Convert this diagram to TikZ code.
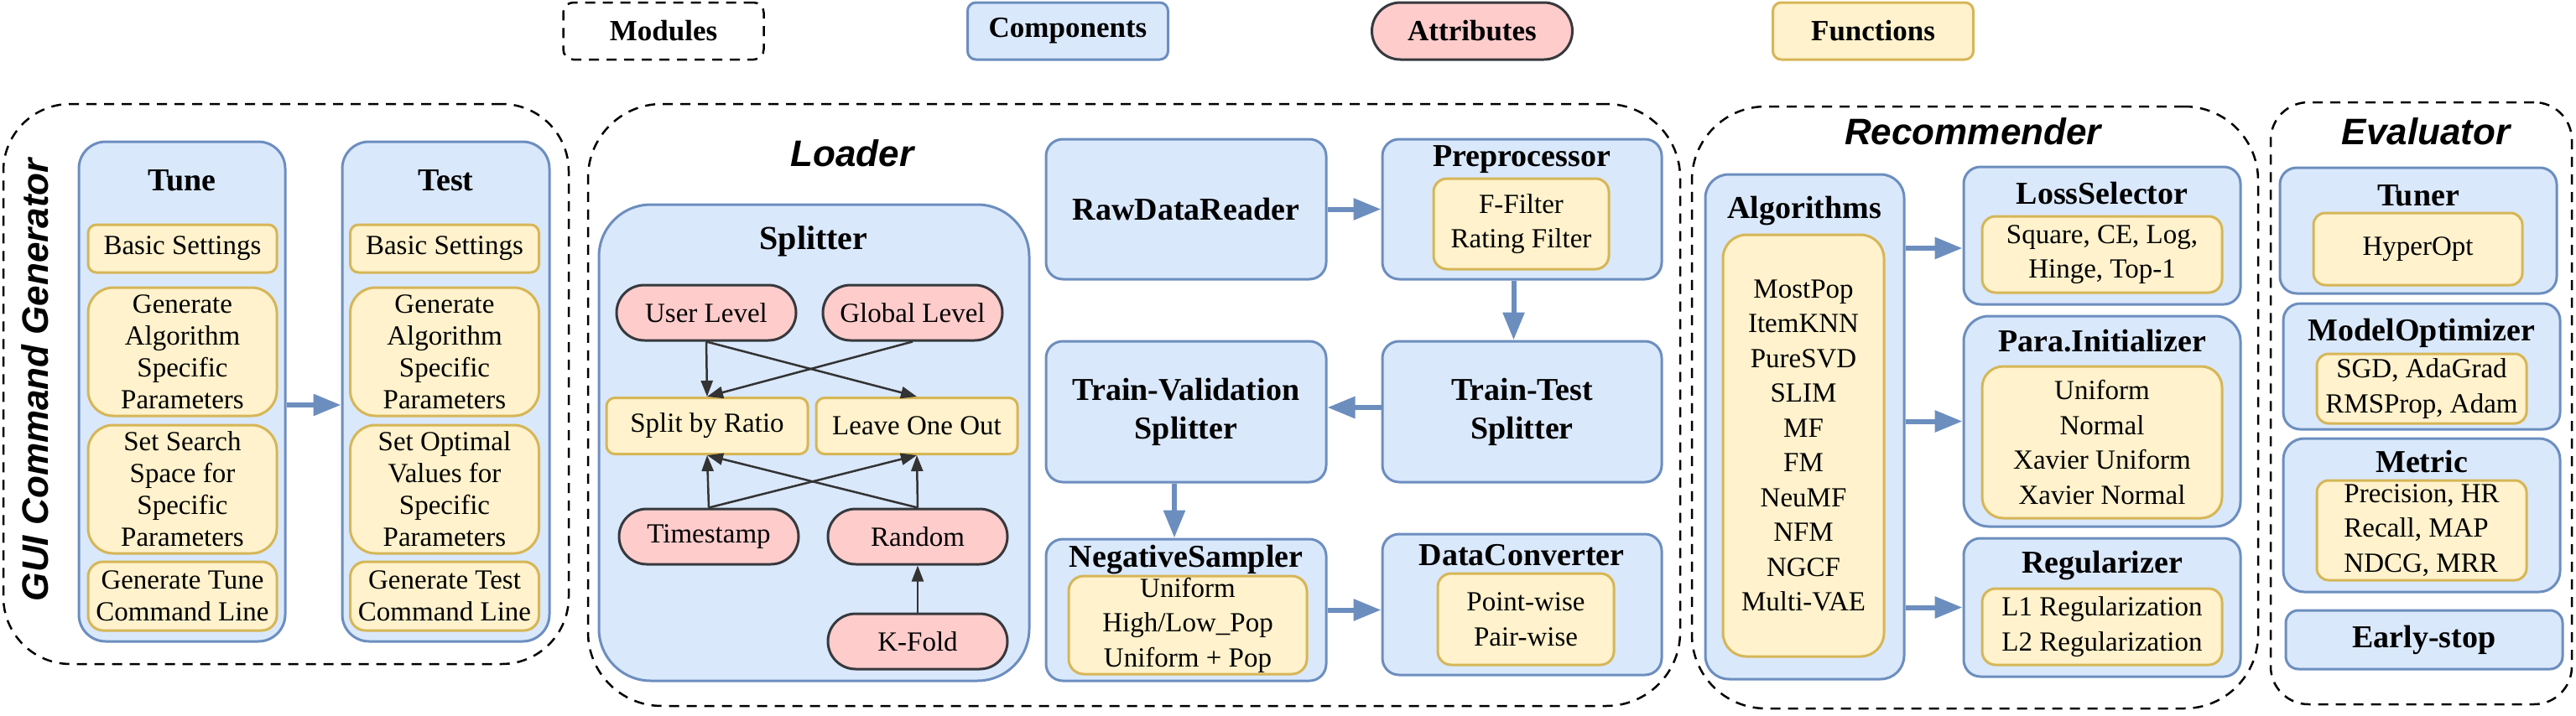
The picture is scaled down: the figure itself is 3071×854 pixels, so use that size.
\documentclass[tikz,border=0pt]{standalone}
\usepackage{fontspec}
\setmainfont{Liberation Serif}
\setsansfont{Liberation Sans}
\usetikzlibrary{arrows.meta}

\definecolor{compfill}{HTML}{DAE8FC}
\definecolor{compline}{HTML}{6C8EBF}
\definecolor{funcfill}{HTML}{FFF2CC}
\definecolor{funcline}{HTML}{D6B656}
\definecolor{attrfill}{HTML}{FFCCCC}
\definecolor{attrline}{HTML}{36393D}
\definecolor{edgegray}{HTML}{333333}

\begin{document}
\begin{tikzpicture}[x=1pt,y=-1pt,
    modbox/.style={draw=black,line width=2.5pt,dash pattern=on 12pt off 9pt,
                   rounded corners=88pt,inner sep=0pt},
    modtitle/.style={font=\sffamily\bfseries\itshape\fontsize{44}{50}\selectfont,inner sep=0pt},
    comp/.style={draw=compline,fill=compfill,line width=3pt,rounded corners=20pt,
                 inner sep=0pt,align=center,font=\bfseries\fontsize{38}{46}\selectfont},
    comptitle/.style={font=\bfseries\fontsize{38}{46}\selectfont,inner sep=0pt},
    func/.style={draw=funcline,fill=funcfill,line width=3pt,rounded corners=14pt,
                 inner sep=0pt,align=center,font=\fontsize{33}{41.5}\selectfont},
    guifunc/.style={func,minimum width=225pt,font=\fontsize{33}{38}\selectfont},
    attr/.style={draw=attrline,fill=attrfill,line width=3pt,rounded corners=33pt,
                 minimum width=214pt,minimum height=66pt,inner sep=0pt,
                 font=\fontsize{33}{41}\selectfont},
    legend/.style={minimum width=239pt,minimum height=68pt,
                   font=\bfseries\fontsize{35}{40}\selectfont},
    flow/.style={draw=compline,line width=6pt,-{Triangle[length=33pt,width=25pt]}},
    link/.style={draw=edgegray,line width=2.5pt,-{Triangle[length=19pt,width=14pt]}}]

    \useasboundingbox (0,0) rectangle (3071,854);

    % Legend
    \node[modbox,legend,rounded corners=12pt] (legmodules) at (791,37) {Modules};
    \node[comp,legend,rounded corners=10pt] (legcomponents) at (1273,37) {Components};
    \node[attr,legend,rounded corners=34pt] (legattributes) at (1755,37) {Attributes};
    \node[func,legend,rounded corners=10pt] (legfunctions) at (2233,37) {Functions};

    % Define modules
    \node[modbox,rounded corners=80pt,minimum width=674pt,minimum height=668pt] (gui) at (341,458) {};
    \node[modbox,minimum width=1302pt,minimum height=718pt] (loader) at (1352,483) {};
    \node[modbox,minimum width=675pt,minimum height=718pt] (recommender) at (2354.5,486) {};
    \node[modbox,rounded corners=45pt,minimum width=359pt,minimum height=718pt] (evaluator) at (2886.5,481) {};

    \node[modtitle,rotate=90] (guititle) at (42,453) {GUI Command Generator};
    \node[modtitle] (loadertitle) at (1016,183) {Loader};
    \node[modtitle] (rectitle) at (2352,157) {Recommender};
    \node[modtitle] (evaltitle) at (2892,157) {Evaluator};

    % GUI command generator
    \node[comp,rounded corners=32pt,minimum width=246pt,minimum height=596pt] (tune) at (217,467) {};
    \node[comp,rounded corners=32pt,minimum width=247pt,minimum height=596pt] (test) at (531.5,467) {};
    \node[comptitle] (tunetitle) at (217,215) {Tune};
    \node[comptitle] (testtitle) at (531.5,215) {Test};

    \node[guifunc,minimum height=57pt,rounded corners=10pt] (tunebasic) at (217.5,296.5) {Basic Settings};
    \node[guifunc,minimum height=153pt,rounded corners=30pt] (tunealgo) at (217.5,419.5) {Generate\\Algorithm\\Specific\\Parameters};
    \node[guifunc,minimum height=153pt,rounded corners=30pt] (tunespace) at (217.5,583.5) {Set Search\\Space for\\Specific\\Parameters};
    \node[guifunc,minimum height=82pt,rounded corners=18pt] (tunecmd) at (217.5,711) {Generate Tune\\Command Line};

    \node[guifunc,minimum height=57pt,rounded corners=10pt] (testbasic) at (530,296.5) {Basic Settings};
    \node[guifunc,minimum height=153pt,rounded corners=30pt] (testalgo) at (530,419.5) {Generate\\Algorithm\\Specific\\Parameters};
    \node[guifunc,minimum height=153pt,rounded corners=30pt] (testvalues) at (530,583.5) {Set Optimal\\Values for\\Specific\\Parameters};
    \node[guifunc,minimum height=82pt,rounded corners=18pt] (testcmd) at (530,711) {Generate Test\\Command Line};

    % Loader
    \node[comp,rounded corners=62pt,minimum width=513pt,minimum height=568pt] (splitter) at (970.5,528) {};
    \node[comptitle,font=\bfseries\fontsize{40}{46}\selectfont] (splittertitle) at (970,288) {Splitter};
    \node[attr] (userlvl) at (842,373) {User Level};
    \node[attr] (globallvl) at (1088,373) {Global Level};
    \node[func,minimum width=240pt,minimum height=67pt,rounded corners=10pt] (ratio) at (843,508) {Split by Ratio};
    \node[func,minimum width=240pt,minimum height=67pt,rounded corners=10pt] (loo) at (1093,508) {Leave One Out};
    \node[attr] (timestamp) at (845,640) {Timestamp};
    \node[attr] (random) at (1094,640) {Random};
    \node[attr] (kfold) at (1094,765) {K-Fold};

    \node[comp,minimum width=334pt,minimum height=167pt] (rawreader) at (1414,249.5) {RawDataReader};
    \node[comp,minimum width=333pt,minimum height=167pt] (preproc) at (1814.5,249.5) {};
    \node[comptitle] (preproctitle) at (1814,190) {Preprocessor};
    \node[func,minimum width=209pt,minimum height=108pt,rounded corners=16pt] (filters) at (1813.5,267) {F-Filter\\Rating Filter};
    \node[comp,minimum width=333pt,minimum height=168pt] (traintest) at (1814.5,491) {Train-Test\\Splitter};
    \node[comp,minimum width=334pt,minimum height=168pt] (trainval) at (1414,491) {Train-Validation\\Splitter};
    \node[comp,minimum width=334pt,minimum height=169pt] (negsampler) at (1414,727.5) {};
    \node[comptitle] (negtitle) at (1414,668) {NegativeSampler};
    \node[func,minimum width=284pt,minimum height=117pt,rounded corners=18pt] (samplers) at (1416,745.5) {Uniform\\High/Low\_Pop\\Uniform + Pop};
    \node[comp,minimum width=333pt,minimum height=168pt] (dataconv) at (1814.5,721) {};
    \node[comptitle] (convtitle) at (1814,662) {DataConverter};
    \node[func,minimum width=210pt,minimum height=109pt,rounded corners=16pt] (pairs) at (1819,738.5) {Point-wise\\Pair-wise};

    % Recommender
    \node[comp,rounded corners=28pt,minimum width=237pt,minimum height=602pt] (algorithms) at (2151.5,509) {};
    \node[comptitle] (algotitle) at (2151,252) {Algorithms};
    \node[func,rounded corners=28pt,minimum width=192pt,minimum height=503pt] (algolist) at (2150,531.5)
        {MostPop\\ItemKNN\\PureSVD\\SLIM\\MF\\FM\\NeuMF\\NFM\\NGCF\\Multi-VAE};
    \node[comp,minimum width=330pt,minimum height=164pt] (lossselector) at (2506,281) {};
    \node[comptitle] (losstitle) at (2506,230) {LossSelector};
    \node[func,minimum width=286pt,minimum height=91pt,rounded corners=16pt] (losses) at (2506,303.5) {Square, CE, Log,\\Hinge, Top-1};
    \node[comp,rounded corners=30pt,minimum width=330pt,minimum height=251pt] (parainit) at (2506,502.5) {};
    \node[comptitle] (inittitle) at (2506,407) {Para.Initializer};
    \node[func,rounded corners=25pt,minimum width=286pt,minimum height=181pt] (inits) at (2506,527.5) {Uniform\\Normal\\Xavier Uniform\\Xavier Normal};
    \node[comp,minimum width=330pt,minimum height=165pt] (regularizer) at (2506,724.5) {};
    \node[comptitle] (regtitle) at (2506,675) {Regularizer};
    \node[func,minimum width=286pt,minimum height=91pt,rounded corners=16pt] (regs) at (2506,747.5) {L1 Regularization\\L2 Regularization};

    % Evaluator
    \node[comp,minimum width=330pt,minimum height=150pt] (tuner) at (2883,275) {};
    \node[comptitle] (tunertitle) at (2883,233) {Tuner};
    \node[func,minimum width=249pt,minimum height=86pt] (hyperopt) at (2882.5,297) {HyperOpt};
    \node[comp,minimum width=330pt,minimum height=150pt] (modelopt) at (2887,437) {};
    \node[comptitle] (opttitle) at (2887,397) {ModelOptimizer};
    \node[func,minimum width=250pt,minimum height=83pt] (optimizers) at (2887,463.5) {SGD, AdaGrad\\RMSProp, Adam};
    \node[comp,rounded corners=25pt,minimum width=330pt,minimum height=183pt] (metric) at (2887,614.5) {};
    \node[comptitle] (metrictitle) at (2887,550) {Metric};
    \node[func,align=left,minimum width=250pt,minimum height=119pt] (metrics) at (2887,632.5) {Precision, HR\\Recall, MAP\\NDCG, MRR};
    \node[comp,rounded corners=15pt,minimum width=330pt,minimum height=70pt] (earlystop) at (2890,763) {Early-stop};

    \coordinate (lossin) at ([yshift=-15pt]lossselector.west);

    % Draw edges
    \path[every edge/.style={link}]
        (userlvl.south) edge (ratio.north)
        (userlvl.south) edge (loo.north)
        (globallvl.south) edge (ratio.north)
        (timestamp.north) edge (ratio.south)
        (timestamp.north) edge (loo.south)
        (random.north) edge (ratio.south)
        (random.north) edge (loo.south)
        (kfold.north) edge (random.south);

    \path[every edge/.style={flow}]
        ([yshift=-16pt]tune.east) edge ([yshift=-16pt]test.west)
        (rawreader.east) edge (preproc.west)
        ([xshift=-10pt]preproc.south) edge ([xshift=-10pt]traintest.north)
        ([yshift=5pt]traintest.west) edge ([yshift=5pt]trainval.east)
        ([xshift=-14pt]trainval.south) edge ([xshift=-14pt]negsampler.north)
        (negsampler.east) edge (negsampler.east -| dataconv.west)
        (algorithms.east |- lossin) edge (lossin)
        (algorithms.east |- parainit.west) edge (parainit.west)
        (algorithms.east |- regularizer.west) edge (regularizer.west);

\end{tikzpicture}
\end{document}
